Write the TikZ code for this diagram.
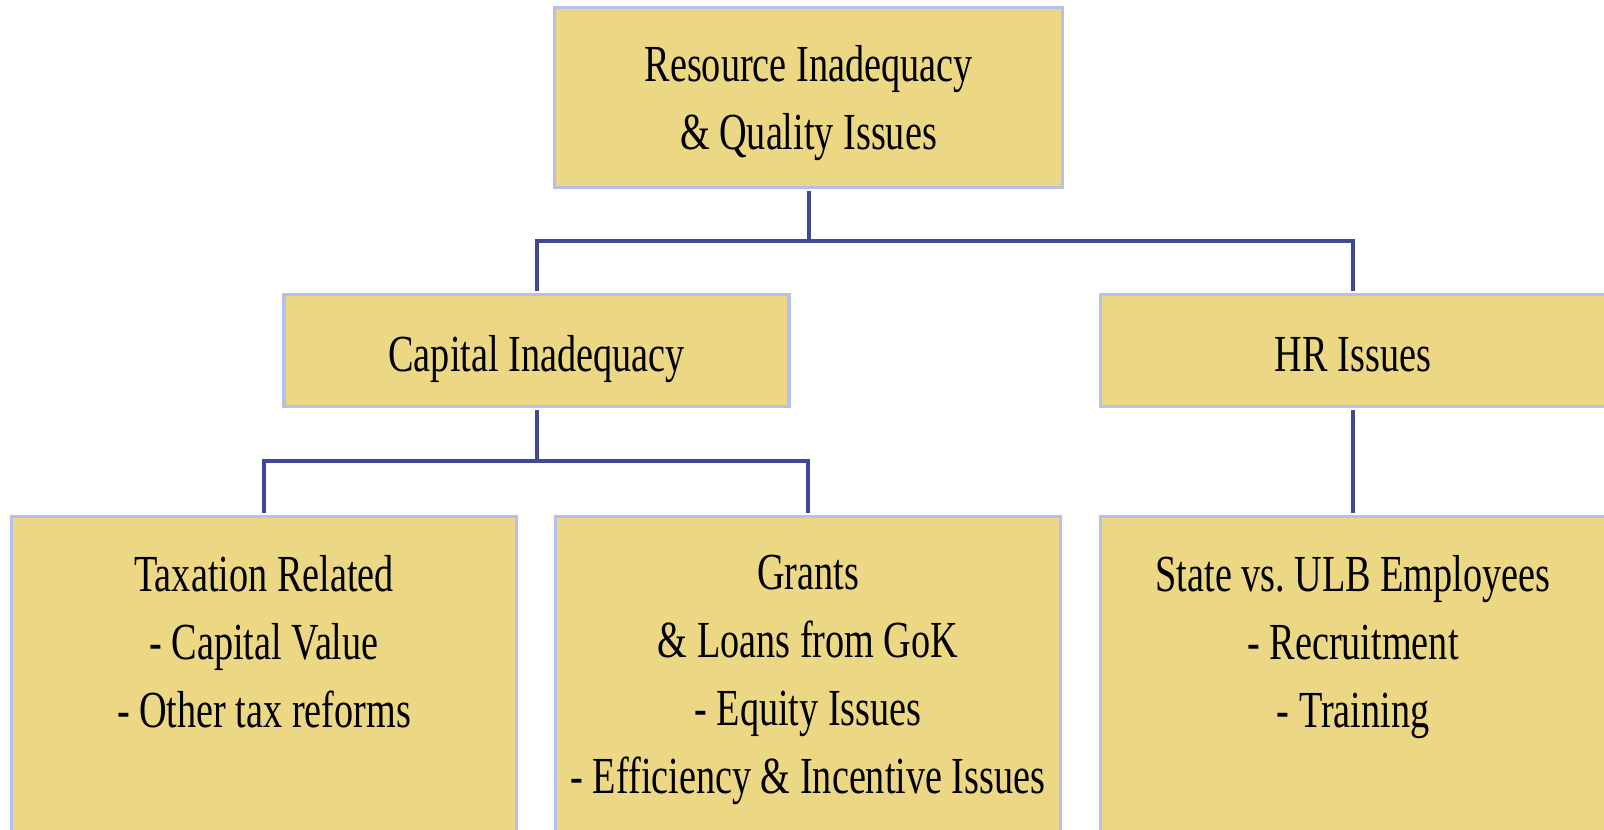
\documentclass[tikz,border=0pt]{standalone}
\usepackage{fontspec}
\setmainfont{Liberation Serif}[FakeStretch=0.735]
\usetikzlibrary{positioning}

\definecolor{boxfill}{HTML}{EBD784}
\definecolor{boxline}{HTML}{B7BFEB}
\definecolor{linkline}{HTML}{3F4890}

\begin{document}
\begin{tikzpicture}[
    x=1pt,
    y=-1pt,
    font=\fontsize{52}{68}\selectfont,
    box/.style={draw=boxline, fill=boxfill, line width=3.5pt,
      inner sep=0pt, align=center},
    boxtext/.style={inner sep=0pt, align=center},
    link/.style={draw=linkline, line width=4pt,
      shorten <=1.75pt, shorten >=1.75pt}
  ]
    \useasboundingbox (0,0) rectangle (1604,830);
    \clip (0,0) rectangle (1604,830);

    % --- Nivel superior ---
    \node[box, minimum width=508pt, minimum height=180pt] (root)
      at (808.5, 97.5) {};
    \node[boxtext, below=39pt of root.north] (roottxt)
      {Resource Inadequacy\\\& Quality Issues};

    % --- Segundo nivel ---
    \node[box, minimum width=505pt, minimum height=112pt,
      text height=41pt, text depth=0pt] (cap)
      at (536.5, 350.5) {Capital Inadequacy};
    \node[box, minimum width=505pt, minimum height=112pt,
      text height=41pt, text depth=0pt] (hr)
      at (1353, 350.5) {HR Issues};

    % --- Tercer nivel (las cajas siguen por debajo del borde) ---
    \node[box, anchor=north, minimum width=505pt, minimum height=360pt] (tax)
      at (264, 514.75) {};
    \node[box, anchor=north, minimum width=505pt, minimum height=360pt] (grants)
      at (808, 514.75) {};
    \node[box, anchor=north, minimum width=505pt, minimum height=360pt] (state)
      at (1353, 514.75) {};

    \node[boxtext, below=40pt of tax.north] (taxtxt)
      {Taxation Related\\- Capital Value\\- Other tax reforms};
    \node[boxtext, below=40pt of grants.north] (grantstxt)
      {Grants\\\& Loans from GoK\\- Equity Issues\\- Efficiency \& Incentive Issues};
    \node[boxtext, below=40pt of state.north] (statetxt)
      {State vs.\ ULB Employees\\- Recruitment\\- Training};

    % Conectores
    \coordinate (bus1) at (808.5, 241);
    \coordinate (bus2) at (536.5, 461);
    \draw[link] (root.south) -- (bus1);
    \draw[link] (cap.north) |- (bus1) -| (hr.north);
    \draw[link] (cap.south) -- (bus2);
    \draw[link] (tax.north) |- (bus2) -| (grants.north);
    \draw[link] (hr.south) -- (state.north);
  \end{tikzpicture}
\end{document}
